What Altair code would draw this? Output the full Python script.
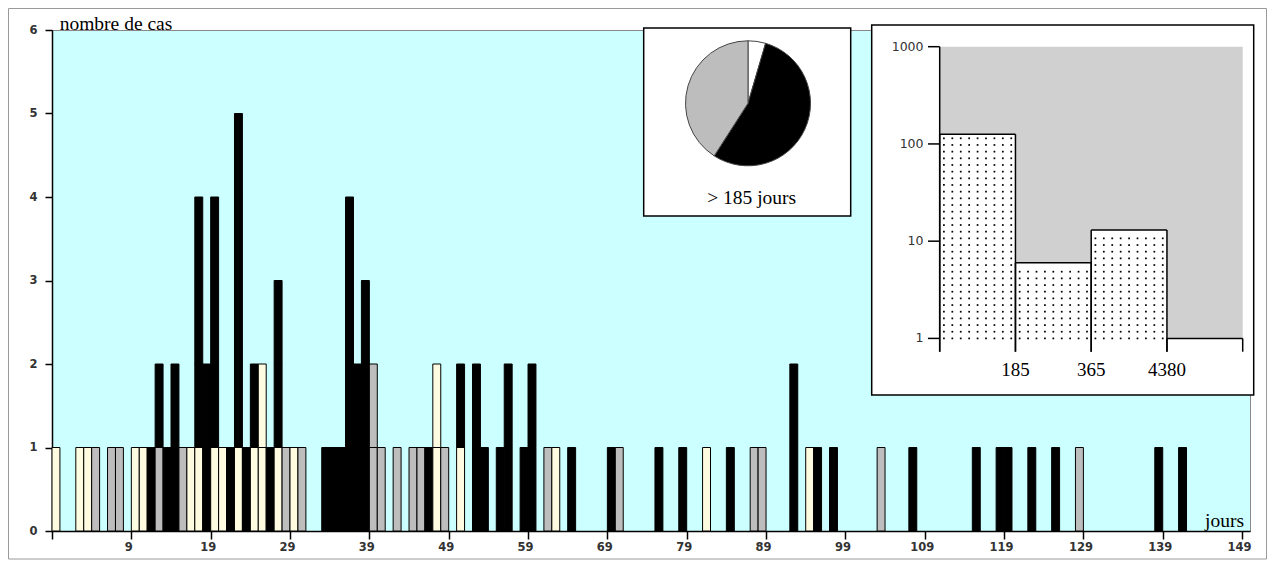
import altair as alt
import pandas as pd
import numpy as np

# ---------------- main histogram data ----------------
# day slot of each column and its stack of cases, bottom -> top
# B = black, G = grey, C = cream
days = [0, 3, 4, 5, 7, 8, 10, 11, 12, 13,
        14, 15, 16, 17, 18, 19, 20, 21, 22, 23,
        24, 25, 26, 27, 28, 29, 30, 31,
        34, 35, 36, 37, 38, 39, 40, 41, 43, 45,
        46, 47, 48, 49, 51, 53, 54, 56, 57, 59,
        60, 62, 63, 65,
        70, 71, 76, 79, 82, 85, 88, 89, 93, 95,
        96, 98, 104, 108, 116, 119, 120, 123, 126, 129,
        139, 142]
stacks = ["C", "C", "C", "G", "G", "G", "C", "C", "B", "GB",
          "B", "BB", "G", "C", "CBBB", "BB", "CBBB", "C", "B", "CBBBB",
          "B", "CB", "CC", "B", "CBB", "G", "C", "G",
          "B", "B", "B", "BBBB", "BB", "BBB", "GG", "G", "G", "G",
          "G", "B", "CC", "G", "CB", "BB", "B", "B", "BB", "B",
          "BB", "G", "C", "B",
          "B", "G", "B", "B", "C", "B", "G", "G", "BB", "C",
          "B", "B", "G", "B", "B", "B", "B", "B", "B", "G",
          "B", "B"]
palette = {"B": "#000000", "G": "#bdbdbd", "C": "#fffbe0"}
x_ticks = [-1] + list(range(9, 150, 10))
y_ticks = [0, 1, 2, 3, 4, 5, 6]

# ---------------- pie inset data ----------------
pie_categories = ["blanc", "noir", "gris"]
pie_counts = [1, 12, 9]
pie_colors = ["#ffffff", "#000000", "#bdbdbd"]

# ---------------- log histogram inset data ----------------
bin_names = ["< 185", "185-365", "365-4380", "> 4380"]
bin_counts = [126, 6, 13, 1]
edge_labels = ["185", "365", "4380"]
log_ticks = [1, 10, 100, 1000]
ymin = 0.73

# ---------------- build tables ----------------
rows = []
for d, s in zip(days, stacks):
    for lvl, ch in enumerate(s):
        rows.append({"x0": d - 1, "x1": d, "y0": lvl, "y1": lvl + 1, "fill": palette[ch]})
seg = pd.DataFrame(rows)

serif = "Liberation Serif"

bars = alt.Chart(seg).mark_rect(stroke="black", strokeWidth=1).encode(
    x=alt.X("x0:Q", scale=alt.Scale(domain=[-1, 150], nice=False, zero=False),
            axis=alt.Axis(values=x_ticks, title=None, tickSize=8, labelPadding=2, labelOffset=-3,
                          labelExpr="datum.value < 0 ? '' : datum.label", labelFlush=False)),
    x2="x1:Q",
    y=alt.Y("y0:Q", scale=alt.Scale(domain=[0, 6], nice=False, zero=False),
            axis=alt.Axis(values=y_ticks, title=None, tickSize=7, labelPadding=8, format="d")),
    y2="y1:Q",
    fill=alt.Fill("fill:N", scale=None),
)

one = pd.DataFrame({"t": ["nombre de cas"]})
ylab = alt.Chart(one).mark_text(font=serif, fontSize=19.5, align="left", baseline="alphabetic",
                                color="black").encode(
    text="t:N", x=alt.value(7.7), y=alt.value(-0.5))
xlab = alt.Chart(pd.DataFrame({"t": ["jours"]})).mark_text(
    font=serif, fontSize=19.5, align="right", baseline="alphabetic", color="black").encode(
    text="t:N", x=alt.value(1192), y=alt.value(497))

main = alt.layer(bars, ylab, xlab)

frame = alt.Chart(pd.DataFrame({"a": [0]})).mark_rect(
    fillOpacity=0, stroke="#9a9a9a", strokeWidth=1).encode(
    x=alt.value(-43.5), x2=alt.value(1214.5), y=alt.value(-21.5), y2=alt.value(529))

# pie inset
pie_box = alt.Chart(pd.DataFrame({"a": [0]})).mark_rect(
    fill="white", stroke="black", strokeWidth=1.5).encode(
    x=alt.value(591.7), x2=alt.value(798.7), y=alt.value(-2), y2=alt.value(186))
pie_df = pd.DataFrame({"cat": pie_categories, "n": pie_counts, "col": pie_colors,
                       "o": list(range(len(pie_categories)))})
pie = alt.Chart(pie_df).mark_arc(radius=62.5, stroke="#444444", strokeWidth=1).encode(
    theta=alt.Theta("n:Q", stack=True),
    fill=alt.Fill("col:N", scale=None),
    order=alt.Order("o:Q"),
    x=alt.value(696), y=alt.value(73.3),
)
pie_text = alt.Chart(pd.DataFrame({"t": ["> 185 jours"]})).mark_text(
    font=serif, fontSize=19.5, align="center", baseline="middle", color="black").encode(
    text="t:N", x=alt.value(699.7), y=alt.value(168))

# histogram inset
hist_box = alt.Chart(pd.DataFrame({"a": [0]})).mark_rect(
    fill="white", stroke="black", strokeWidth=1.5).encode(
    x=alt.value(819.7), x2=alt.value(1201.7), y=alt.value(-5), y2=alt.value(365))

nb = len(bin_counts)
ix = alt.Scale(domain=[0, nb], range=[887.7, 1190.7], nice=False, zero=False)
iy = alt.Scale(type="log", domain=[ymin, 1000], range=[321.7, 16.7], nice=False)

hist = pd.DataFrame({"name": bin_names, "a": list(range(nb)), "b": list(range(1, nb + 1)),
                     "c": bin_counts, "lo": [ymin] * nb})
bg = alt.Chart(pd.DataFrame({"a": [0], "b": [nb], "y": [log_ticks[0]], "y2": [log_ticks[-1]]})).mark_rect(
    fill="#d0d0d0").encode(
    x=alt.X("a:Q", scale=ix, axis=None), x2="b:Q",
    y=alt.Y("y:Q", scale=iy, axis=None), y2="y2:Q")
wbars = alt.Chart(hist).mark_rect(fill="white").encode(
    x=alt.X("a:Q", scale=ix, axis=None), x2="b:Q",
    y=alt.Y("lo:Q", scale=iy, axis=None), y2="c:Q")

# dotted texture inside the inset bars
step = 0.0686
dots = []
for i, c in enumerate(bin_counts):
    r = 0
    while r * step < np.log10(c) - 0.03:
        for j in range(9):
            dots.append({"x": i + (j + 0.5) / 9, "y": 10 ** (r * step)})
        r += 1
dots = pd.DataFrame(dots)
dotl = alt.Chart(dots).mark_square(size=3, color="black", opacity=1).encode(
    x=alt.X("x:Q", scale=ix, axis=None), y=alt.Y("y:Q", scale=iy, axis=None))

edges = []
for i, c in enumerate(bin_counts):
    edges.append({"x": i, "x2": i, "y": ymin, "y2": c})
    edges.append({"x": i + 1, "x2": i + 1, "y": ymin, "y2": c})
    edges.append({"x": i, "x2": i + 1, "y": c, "y2": c})
edges = pd.DataFrame(edges)
edgel = alt.Chart(edges).mark_rule(color="black", strokeWidth=1.5).encode(
    x=alt.X("x:Q", scale=ix, axis=None), x2="x2:Q",
    y=alt.Y("y:Q", scale=iy, axis=None), y2="y2:Q")

axis_line = alt.Chart(pd.DataFrame({"x": [0], "y": [ymin], "y2": [log_ticks[-1]]})).mark_rule(
    color="black", strokeWidth=1.5).encode(
    x=alt.X("x:Q", scale=ix, axis=None), y=alt.Y("y:Q", scale=iy, axis=None), y2="y2:Q")
tk = pd.DataFrame({"v": log_ticks, "t": [str(v) for v in log_ticks]})
tick_rules = alt.Chart(tk).mark_rule(color="black", strokeWidth=1.5).encode(
    x=alt.value(876), x2=alt.value(887.7), y=alt.Y("v:Q", scale=iy, axis=None))
tick_text = alt.Chart(tk).mark_text(font="DejaVu Sans", fontSize=12.5, align="right",
                                    baseline="middle", color="#333333").encode(
    text="t:N", x=alt.value(871.5), y=alt.Y("v:Q", scale=iy, axis=None))
el = pd.DataFrame({"t": edge_labels, "p": list(range(1, len(edge_labels) + 1))})
edge_text = alt.Chart(el).mark_text(font=serif, fontSize=19, align="center",
                                    baseline="middle", color="black").encode(
    text="t:N", x=alt.X("p:Q", scale=ix, axis=None), y=alt.value(340))

inset = alt.layer(bg, wbars, dotl, edgel, axis_line, tick_rules, tick_text, edge_text)

chart = alt.layer(frame, main, pie_box, pie, pie_text, hist_box, inset).resolve_scale(
    x="independent", y="independent"
).properties(
    width=1198, height=501,
    autosize=alt.AutoSizeParams(type="none"),
    padding={"left": 44, "top": 22, "right": 17, "bottom": 30},
).configure_view(
    fill="#ccffff", stroke="#888888", strokeWidth=1
).configure_axis(
    domainColor="black", tickColor="black", labelColor="#333333", labelFont="DejaVu Sans",
    labelFontSize=11.5, labelFontWeight="bold", grid=False, domainWidth=1.5, tickWidth=1.5
)

chart.save("out.html", embed_options={"renderer": "svg", "actions": False})
